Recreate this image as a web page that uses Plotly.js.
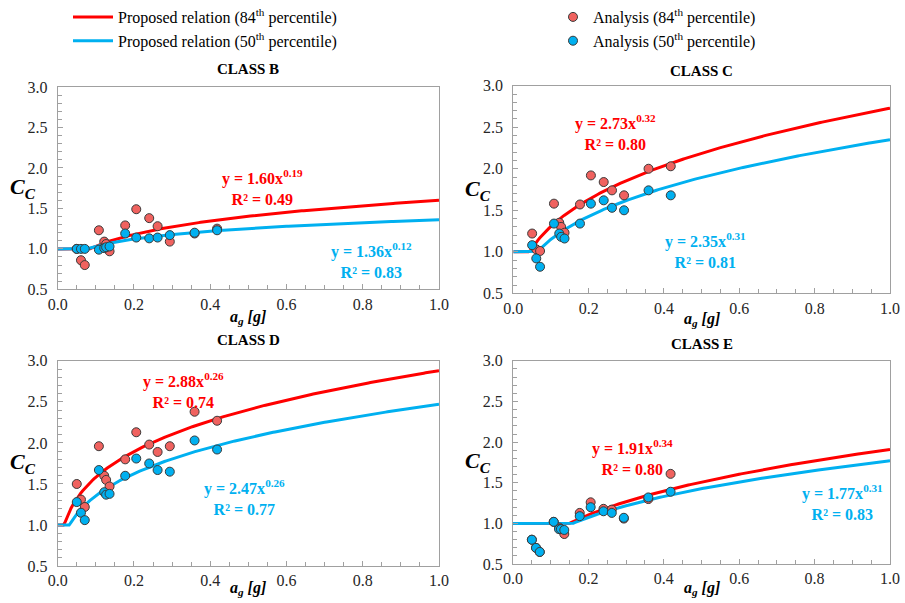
<!DOCTYPE html>
<html>
<head>
<meta charset="utf-8">
<script src="https://cdn.plot.ly/plotly-3.0.1.min.js"></script>
<style>
  html, body { margin: 0; padding: 0; background: #fff; }
  #chart { width: 905px; height: 603px; }
</style>
</head>
<body>
<div id="chart"></div>
<script>
// Site classes shown in the four panels
const classes = ['B', 'C', 'D', 'E'];

// Peak ground acceleration of the records, a_g [g]
const ag = [0.050, 0.061, 0.071, 0.108, 0.122, 0.127, 0.136, 0.177, 0.206, 0.240, 0.262, 0.294, 0.359, 0.418];

// Analysis results, 84th percentile
const cc84B = [1.00, 0.86, 0.80, 1.23, 1.09, 1.06, 0.97, 1.29, 1.49, 1.38, 1.28, 1.09, 1.19, 1.25];
const cc84C = [1.22, 1.03, 1.01, 1.58, 1.35, 1.30, 1.23, 1.57, 1.92, 1.84, 1.74, 1.68, 2.00, 2.03];
const cc84D = [1.50, 1.31, 1.22, 1.96, 1.60, 1.55, 1.47, 1.80, 2.13, 1.98, 1.89, 1.96, 2.38, 2.27];
const cc84E = [0.80, 0.70, 0.65, 1.02, 0.95, 0.93, 0.87, 1.13, 1.26, 1.18, 1.17, 1.06, 1.30, 1.61];

// Analysis results, 50th percentile
const cc50B = [1.00, 1.00, 1.00, 0.99, 1.01, 1.02, 1.03, 1.19, 1.14, 1.13, 1.14, 1.17, 1.20, 1.23];
const cc50C = [1.08, 0.92, 0.82, 1.34, 1.22, 1.18, 1.16, 1.34, 1.58, 1.62, 1.53, 1.50, 1.74, 1.68];
const cc50D = [1.28, 1.15, 1.06, 1.67, 1.40, 1.37, 1.38, 1.60, 1.81, 1.75, 1.67, 1.65, 2.03, 1.92];
const cc50E = [0.80, 0.70, 0.65, 1.02, 0.93, 0.93, 0.92, 1.09, 1.20, 1.15, 1.13, 1.07, 1.32, 1.39];

// Proposed relations  C_C = max(1, a * a_g^b)
const coef84 = [1.60, 2.73, 2.88, 1.91];
const expo84 = [0.19, 0.32, 0.26, 0.34];
const r2_84  = [0.49, 0.80, 0.74, 0.80];
const coef50 = [1.36, 2.35, 2.47, 1.77];
const expo50 = [0.12, 0.31, 0.26, 0.31];
const r2_50  = [0.83, 0.81, 0.77, 0.83];

// Axis tick values
const xTicks = [0.0, 0.2, 0.4, 0.6, 0.8, 1.0];
const yTicks = [0.5, 1.0, 1.5, 2.0, 2.5, 3.0];

const pts84 = [cc84B, cc84C, cc84D, cc84E];
const pts50 = [cc50B, cc50C, cc50D, cc50E];

const RED = '#ff0000';
const BLUE = '#00b0f0';
const RED_FILL = '#f0625f';
const SERIF = '"Liberation Serif", "Times New Roman", serif';
const W = 905, H = 603;

// Plot-area rectangles in pixels: [left, right, top, bottom]
const boxes = [
  [57.7, 439, 85.3, 288.3],
  [513.3, 890, 84, 292.3],
  [57.7, 439, 360, 566],
  [513, 890, 360, 564]
];
// vertical centre of the title above and the a_g label below each panel
const titleY = [67, 69, 339, 343];
const xLabelY = [317, 319, 588, 588];

// Sampling grid along the abscissa for the fitted curves
const grid = [];
for (let i = 0; i <= 200; i++) grid.push(i / 200);
const relation = (a, b) => grid.map(x => Math.max(1, a * Math.pow(x, b)));

const traces = [];
const layout = {
  width: W, height: H,
  margin: {l: 0, r: 0, t: 0, b: 0},
  paper_bgcolor: '#fff', plot_bgcolor: '#fff',
  font: {family: SERIF, color: '#000', size: 15},
  showlegend: true,
  legend: {
    x: 68 / W, xanchor: 'left', y: 1 + 2 / H, yanchor: 'top',
    bgcolor: 'rgba(0,0,0,0)', font: {family: SERIF, size: 16, color: '#000'},
    tracegroupgap: 0, itemwidth: 40
  },
  legend2: {
    x: 553 / W, xanchor: 'left', y: 1 + 2 / H, yanchor: 'top',
    bgcolor: 'rgba(0,0,0,0)', font: {family: SERIF, size: 16, color: '#000'},
    tracegroupgap: 0
  },
  annotations: []
};

classes.forEach((cls, k) => {
  const n = k === 0 ? '' : String(k + 1);
  const xa = 'x' + n, ya = 'y' + n;
  const [l, r, t, b] = boxes[k];

  const axisCommon = {
    showline: true, mirror: true, linecolor: '#a0a0a0', linewidth: 1,
    showgrid: false, zeroline: false,
    ticks: 'inside', ticklen: 5, tickcolor: '#a0a0a0',
    tickfont: {family: SERIF, size: 16, color: '#262626'},
    fixedrange: true
  };
  layout['xaxis' + n] = Object.assign({}, axisCommon, {
    domain: [l / W, r / W], anchor: ya,
    range: [0, 1], tickvals: xTicks, tickformat: '.1f',
    minor: {dtick: 0.05, ticks: 'inside', ticklen: 4, tickcolor: '#a0a0a0'}
  });
  layout['yaxis' + n] = Object.assign({}, axisCommon, {
    domain: [1 - b / H, 1 - t / H], anchor: xa,
    range: [0.5, 3.0], tickvals: yTicks, tickformat: '.1f',
    ticklabelstandoff: 6,
    minor: {dtick: 0.1, ticks: 'inside', ticklen: 4, tickcolor: '#a0a0a0'}
  });

  // fitted relations
  traces.push({
    x: grid, y: relation(coef84[k], expo84[k]), xaxis: xa, yaxis: ya,
    mode: 'lines', line: {color: RED, width: 3},
    name: 'Proposed relation (84<sup>th</sup> percentile)',
    legendgroup: 'p84', showlegend: k === 0, legend: 'legend', hoverinfo: 'skip'
  });
  traces.push({
    x: grid, y: relation(coef50[k], expo50[k]), xaxis: xa, yaxis: ya,
    mode: 'lines', line: {color: BLUE, width: 3},
    name: 'Proposed relation (50<sup>th</sup> percentile)',
    legendgroup: 'p50', showlegend: k === 0, legend: 'legend', hoverinfo: 'skip'
  });
  // analysis points
  traces.push({
    x: ag, y: pts84[k], xaxis: xa, yaxis: ya,
    mode: 'markers',
    marker: {color: RED_FILL, size: 9, line: {color: '#3a3a3a', width: 1}},
    name: 'Analysis (84<sup>th</sup> percentile)',
    legendgroup: 'a84', showlegend: k === 0, legend: 'legend2'
  });
  traces.push({
    x: ag, y: pts50[k], xaxis: xa, yaxis: ya,
    mode: 'markers',
    marker: {color: BLUE, size: 9, line: {color: '#3a3a3a', width: 1}},
    name: 'Analysis (50<sup>th</sup> percentile)',
    legendgroup: 'a50', showlegend: k === 0, legend: 'legend2'
  });

  // panel title
  layout.annotations.push({
    xref: 'paper', yref: 'paper', x: ((l + r) / 2) / W, y: 1 - titleY[k] / H,
    text: '<b>CLASS ' + cls + '</b>', showarrow: false,
    font: {family: SERIF, size: 15, color: '#000'}, xanchor: 'center', yanchor: 'middle'
  });
  // axis titles
  layout.annotations.push({
    xref: 'paper', yref: 'paper', x: ((l + r) / 2) / W, y: 1 - xLabelY[k] / H,
    text: '<b><i>a<sub>g</sub> [g]</i></b>', showarrow: false,
    font: {family: SERIF, size: 16, color: '#000'}, xanchor: 'center', yanchor: 'middle'
  });
  layout.annotations.push({
    xref: 'paper', yref: 'paper', x: (l - 35) / W, y: 1 - ((t + b) / 2) / H,
    text: '<b><i>C<sub>C</sub></i></b>', showarrow: false,
    font: {family: SERIF, size: 22, color: '#000'}, xanchor: 'center', yanchor: 'middle'
  });
});

// fitted-equation labels, positioned in data units of each panel
const eqPos84 = [[0.538, 1.76], [0.270, 2.44], [0.329, 2.64], [0.316, 1.81]];
const eqPos50 = [[0.824, 0.86], [0.511, 1.01], [0.489, 1.33], [0.873, 1.26]];
classes.forEach((cls, k) => {
  const n = k === 0 ? '' : String(k + 1);
  const eq = (a, e, r2) => '<b>y = ' + a.toFixed(2) + 'x<sup>' + e.toFixed(2) + '</sup><br>R² = ' + r2.toFixed(2) + '</b>';
  layout.annotations.push({
    xref: 'x' + n, yref: 'y' + n, x: eqPos84[k][0], y: eqPos84[k][1],
    text: eq(coef84[k], expo84[k], r2_84[k]), showarrow: false, align: 'center',
    font: {family: SERIF, size: 16, color: RED}
  });
  layout.annotations.push({
    xref: 'x' + n, yref: 'y' + n, x: eqPos50[k][0], y: eqPos50[k][1],
    text: eq(coef50[k], expo50[k], r2_50[k]), showarrow: false, align: 'center',
    font: {family: SERIF, size: 16, color: BLUE}
  });
});

Plotly.newPlot('chart', traces, layout, {displayModeBar: false, staticPlot: true});
</script>
</body>
</html>
